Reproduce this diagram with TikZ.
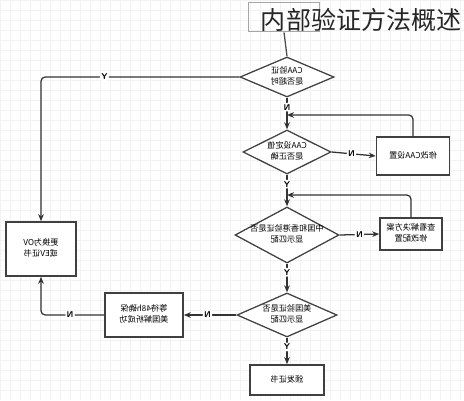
\documentclass[tikz,border=0pt]{standalone}
\usepackage{graphicx}
\usepackage{fontspec}
\newfontfamily\cjk{Noto Sans CJK SC}
\usetikzlibrary{shapes.geometric,arrows.meta}
\newcommand{\spec}[1]{\reflectbox{\begin{tabular}{@{}c@{}}#1\end{tabular}}}

\begin{document}
\begin{tikzpicture}[x=0.025cm,y=-0.025cm,
    every node/.style={font=\cjk\fontsize{5.8}{7.2}\selectfont},
    kasten/.style={draw=black!75,line width=1.1pt,fill=white,inner sep=1pt},
    raute/.style={diamond,draw=black!75,line width=0.9pt,fill=white,inner sep=0pt},
    marke/.style={fill=white,inner sep=1pt,font=\sffamily\fontsize{6}{6}\selectfont\bfseries},
    fluss/.style={draw=black!80,line width=0.9pt,-{Stealth[length=5pt,width=4pt]},rounded corners=3pt}]
  \useasboundingbox (0,0) rectangle (464,400);
  \draw[black!5,step=0.25cm] (0,0) grid (464,400);
  \node[draw=black!35,line width=0.8pt,minimum width=1.78cm,minimum height=0.74cm] (start) at (284,17) {};
  \node[font=\cjk\fontsize{17.8}{20}\selectfont,text=black!85,anchor=west] (titel) at (256,20) {内部验证方法概述};
  \node[raute,minimum width=2.35cm,minimum height=1cm,label=center:{\spec{CAA验证\\是否超时}}] (d1) at (287,77) {};
  \node[raute,minimum width=2.2cm,minimum height=1.1cm,label=center:{\spec{CAA设定值\\是否正确}}] (d2) at (287,152) {};
  \node[kasten,minimum width=1.825cm,minimum height=0.95cm] (b1) at (413,156) {\spec{修改CAA设置}};
  \node[raute,minimum width=2.6cm,minimum height=1.4cm,label=center:{\spec{中国和香港验证是否\\显示匹配}}] (d3) at (287,235) {};
  \node[kasten,minimum width=1.55cm,minimum height=0.8cm] (b2) at (411,234) {\spec{查看解决方案\\修改配置}};
  \node[raute,minimum width=2.5cm,minimum height=1.1cm,label=center:{\spec{美国验证是否\\显示匹配}}] (d4) at (287,315) {};
  \node[kasten,minimum width=1.95cm,minimum height=1.1cm] (b3) at (144,315) {\spec{等待48h确保\\美国解析成功}};
  \node[kasten,minimum width=1.75cm,minimum height=1.35cm] (b4) at (41,249) {\spec{更换为OV\\或EV证书}};
  \node[kasten,minimum width=1.85cm,minimum height=0.75cm] (b5) at (287,380) {\spec{颁发证书}};
  \coordinate (j1) at (287,115);
  \coordinate (j2) at (287,195);
  % Verbindungen
  \draw[black!70,line width=0.9pt] (start.south) -- (d1.north);
  \draw[fluss] (d1.south) -- node[marke,pos=0.3]{\reflectbox{N}} (d2.north);
  \draw[fluss] (d1.west) -| node[marke,pos=0.34]{Y} (b4.north);
  \draw[fluss] (d2.east) -- node[marke,pos=0.45]{\reflectbox{N}} (b1.west);
  \draw[fluss] (b1.north) |- (j1);
  \draw[fluss] (d2.south) -- node[marke,pos=0.3]{Y} (d3.north);
  \draw[fluss] (d3.east) -- node[marke]{\reflectbox{N}} (b2.west);
  \draw[fluss] (b2.north) |- (j2);
  \draw[fluss] (d3.south) -- node[marke,pos=0.3]{Y} (d4.north);
  \draw[fluss] (d4.west) -- node[marke,pos=0.55]{\reflectbox{N}} (b3.east);
  \draw[fluss] (b3.west) -| node[marke,pos=0.27]{\reflectbox{N}} (b4.south);
  \draw[fluss] (d4.south) -- node[marke,pos=0.35]{Y} (b5.north);
\end{tikzpicture}
\end{document}
